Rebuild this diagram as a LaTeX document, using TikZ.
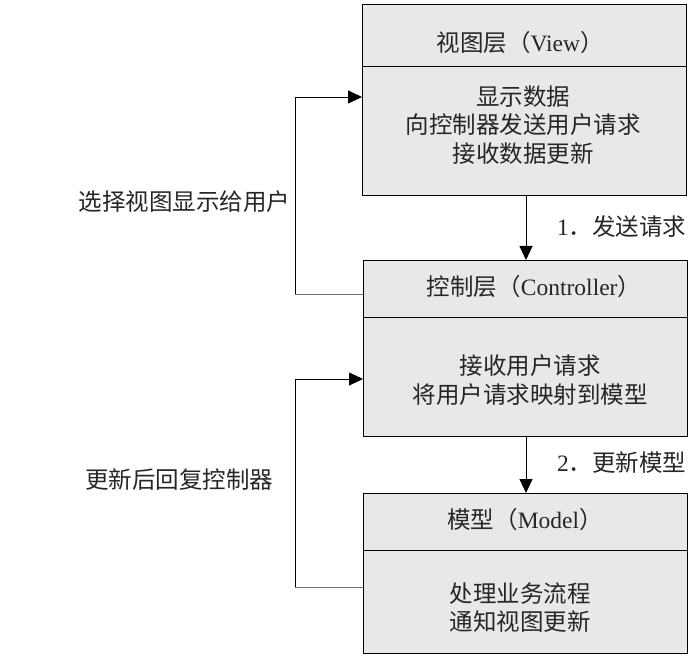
\documentclass[tikz,border=0pt]{standalone}
\usepackage{fontspec}
\setmainfont{Liberation Serif}
\newfontfamily\cjk{Noto Sans CJK SC}
\usetikzlibrary{arrows.meta}
\begin{document}
\begin{tikzpicture}[x=1pt,y=-1pt,
  part/.style={draw=black, fill=gray!18, line width=1pt, inner sep=0pt, anchor=north west},
  txt/.style={font=\fontsize{23.5}{28.5}\selectfont\cjk, align=center, inner sep=0pt, text=black!85},
  lbl/.style={font=\fontsize{23.5}{28.5}\selectfont\cjk, inner sep=0pt, text=black!85},
  conn/.style={line width=0.9pt, -{Triangle[length=14pt,width=13pt]}},
  stub/.style={line width=0.9pt, draw=black!55}]
\useasboundingbox (0,0) rectangle (690,660);
% View
\node[part, minimum width=324pt, minimum height=62pt] (vh) at (362,4) {};
\node[part, minimum width=324pt, minimum height=129pt] (vb) at (362,66) {};
\node[txt] (vht) at (520,43) {视图层（{\rmfamily View}）};
\node[txt] (vbt) at (523,125) {显示数据\\向控制器发送用户请求\\接收数据更新};
% Controller
\node[part, minimum width=324pt, minimum height=57pt] (ch) at (363,260) {};
\node[part, minimum width=324pt, minimum height=119pt] (cb) at (363,317) {};
\node[txt] (cht) at (534,287) {控制层（{\rmfamily Controller}）};
\node[txt] (cbt) at (530,380) {接收用户请求\\将用户请求映射到模型};
% Model
\node[part, minimum width=324pt, minimum height=57pt] (mh) at (363,493) {};
\node[part, minimum width=324pt, minimum height=103pt] (mb) at (363,550) {};
\node[txt] (mht) at (525,520) {模型（{\rmfamily Model}）};
\node[txt] (mbt) at (520,607.5) {处理业务流程\\通知视图更新};
% vertical arrows
\coordinate (a1s) at (526,195);
\coordinate (a1e) at (526,260);
\draw[conn] (a1s) -- (a1e);
\node[lbl, anchor=west] (l1) at (557,227) {{\rmfamily 1}．发送请求};
\coordinate (a2s) at (526,436);
\coordinate (a2e) at (526,493);
\draw[conn] (a2s) -- (a2e);
\node[lbl, anchor=west] (l2) at (557,463) {{\rmfamily 2}．更新模型};
% left loops
\coordinate (c1) at (295,294);
\coordinate (c2) at (295,97);
\coordinate (c2e) at (362,97);
\draw[stub] (ch.west |- c1) -- (c1);
\draw[conn] (c1) -- (c2) -- (c2e);
\node[lbl] (ls1) at (184.5,202) {选择视图显示给用户};
\coordinate (m1) at (295,587);
\coordinate (m2) at (295,379);
\coordinate (m2e) at (363,379);
\draw[stub] (mb.west |- m1) -- (m1);
\draw[conn] (m1) -- (m2) -- (m2e);
\node[lbl] (ls2) at (179,480) {更新后回复控制器};
\end{tikzpicture}
\end{document}
